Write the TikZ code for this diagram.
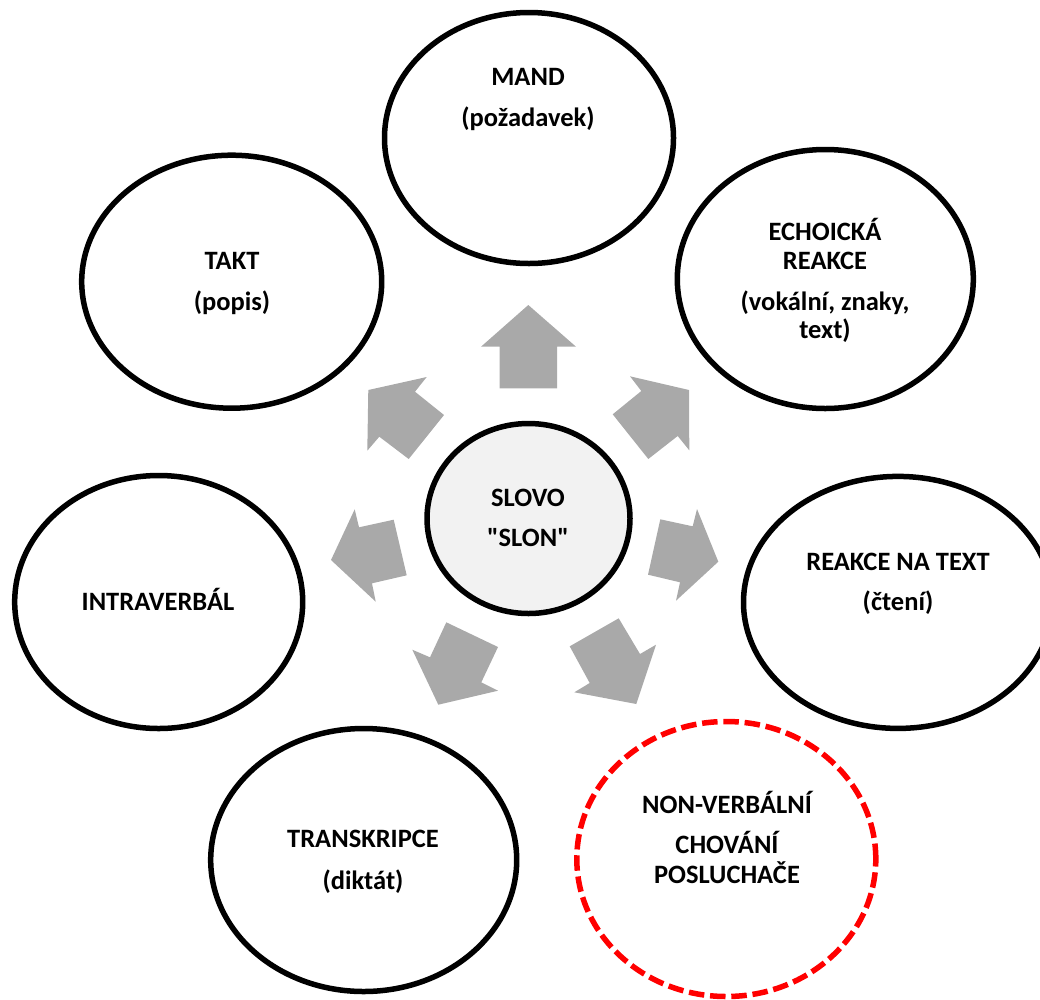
\documentclass[tikz,border=0pt]{standalone}
\usepackage{fontspec}
\newfontfamily\lblfont{Carlito}
\usetikzlibrary{shapes.geometric}
\definecolor{arrowgray}{HTML}{A9A9A9}
\definecolor{hubfill}{HTML}{F2F2F2}
\definecolor{dashred}{HTML}{FF0000}
\tikzset{
  bubble/.style={ellipse,draw=black,line width=5.5pt,fill=white,inner sep=0pt,outer sep=0pt},
  hub/.style={bubble,fill=hubfill},
  redbubble/.style={bubble,draw=dashred,dash pattern=on 15.5pt off 5.8pt},
  lbl/.style={font=\lblfont\fontsize{26.5}{30}\selectfont\bfseries,text=black,inner sep=0pt,anchor=base},
  gray arrow/.style={fill=arrowgray,draw=none}
}
\begin{document}
\begin{tikzpicture}[x=1pt,y=-1pt]
\useasboundingbox (0,0) rectangle (1040,999);
\clip (0,0) rectangle (1040,999);
% bubbles
\node[bubble,minimum width=289pt,minimum height=251pt] (mand) at (529,138) {};
\node[bubble,minimum width=300pt,minimum height=253pt] (takt) at (231.7,281.7) {};
\node[bubble,minimum width=296pt,minimum height=259pt] (echo) at (825.3,279) {};
\node[bubble,minimum width=309pt,minimum height=252pt] (text) at (898,602.4) {};
\node[bubble,minimum width=288pt,minimum height=253pt] (intra) at (158.7,602) {};
\node[bubble,minimum width=306pt,minimum height=263pt] (trans) at (363.7,860) {};
\node[redbubble,minimum width=299pt,minimum height=275pt] (nonv) at (726.3,859) {};
\node[hub,minimum width=203pt,minimum height=190pt] (slovo) at (528.5,518.5) {};
% arrows
\fill[gray arrow] (528.3,305) -- (576,346.7) -- (557,346.7) -- (557,388.3) -- (499.7,388.3) -- (499.7,346.7) -- (481,346.7) -- cycle;
\fill[gray arrow] (426.7,377) -- (368.3,390) -- (367.3,450.7) -- (379.3,436.7) -- (408.7,459) -- (444,415) -- (415,391.7) -- cycle;
\fill[gray arrow] (630,376.3) -- (689,390) -- (689.3,450.3) -- (677.7,436) -- (648.3,459) -- (612.7,414.3) -- (641.3,391) -- cycle;
\fill[gray arrow] (697,509) -- (718.3,561.7) -- (676,600.7) -- (680,582.3) -- (648,574.7) -- (660.3,519.3) -- (692.7,526.3) -- cycle;
\fill[gray arrow] (354.7,509.3) -- (331,560) -- (375.7,601.7) -- (372,583.3) -- (406.7,575.3) -- (393.7,519.7) -- (359,527.3) -- cycle;
\fill[gray arrow] (656,644.7) -- (636.3,704) -- (574.3,692.3) -- (589.7,683) -- (569.7,646.3) -- (618.7,618.3) -- (640,654) -- cycle;
\fill[gray arrow] (412.3,649.7) -- (438.3,704.7) -- (498,690.7) -- (481.3,682.3) -- (498,647) -- (446.3,622.3) -- (430,657.3) -- cycle;
% labels
\node[lbl] (l1) at (528,85) {MAND};
\node[lbl] (l2) at (528,126.7) {(požadavek)};
\node[lbl] (l3) at (232,269) {TAKT};
\node[lbl] (l4) at (232,310.7) {(popis)};
\node[lbl] (l5) at (825,240) {ECHOICKÁ};
\node[lbl] (l6) at (825,269) {REAKCE};
\node[lbl] (l7) at (825,310) {(vokální, znaky,};
\node[lbl] (l8) at (825,338) {text)};
\node[lbl] (l9) at (898,570) {REAKCE NA TEXT};
\node[lbl] (l10) at (898,610) {(čtení)};
\node[lbl] (l11) at (158,610) {INTRAVERBÁL};
\node[lbl] (l12) at (363,847) {TRANSKRIPCE};
\node[lbl] (l13) at (363,889) {(diktát)};
\node[lbl] (l14) at (727,813) {NON-VERBÁLNÍ};
\node[lbl] (l15) at (727,853) {CHOVÁNÍ};
\node[lbl] (l16) at (727,883) {POSLUCHAČE};
\node[lbl] (l17) at (528,506) {SLOVO};
\node[lbl] (l18) at (528,546) {"SLON"};
\end{tikzpicture}
\end{document}
